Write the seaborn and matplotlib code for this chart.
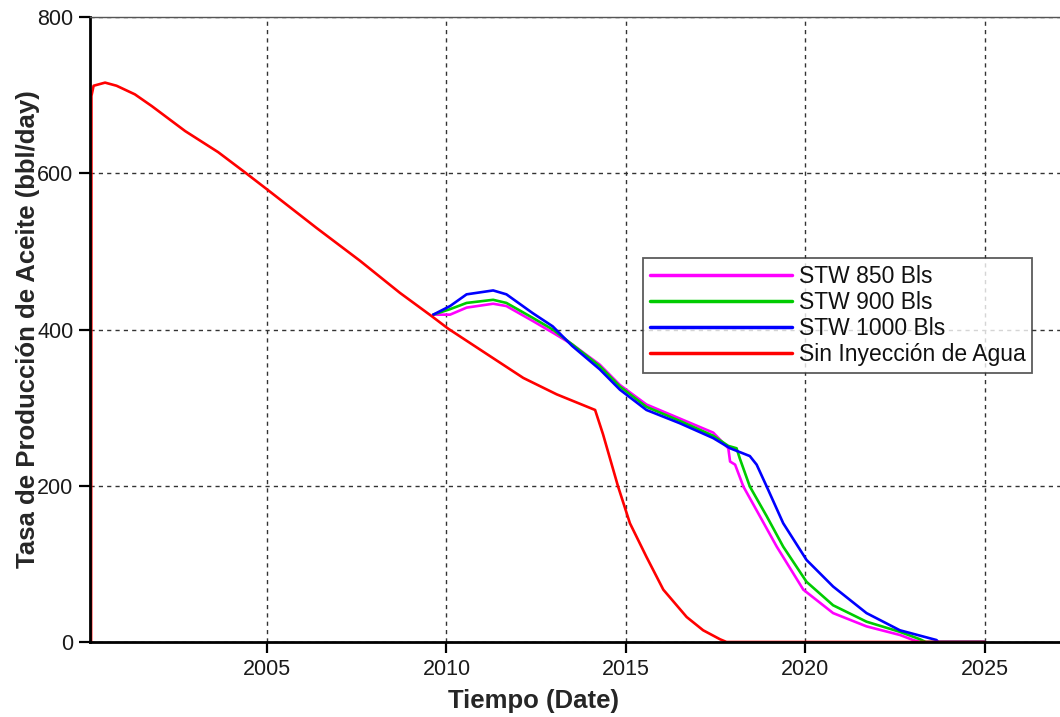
import numpy as np
import pandas as pd
import seaborn as sns
import matplotlib.pyplot as plt

# values (year, bbl/day)
red_t = [2000.10, 2000.11, 2000.17, 2000.49, 2000.81, 2001.32, 2001.79, 2002.72, 2003.64,
         2004.39, 2005.04, 2006.38, 2007.59, 2008.70, 2009.59, 2010.05, 2011.21, 2012.14,
         2013.07, 2014.14, 2014.36, 2014.78, 2015.11, 2015.57, 2016.04, 2016.69, 2017.15,
         2017.62, 2017.80, 2025.0]
red_q = [0, 699, 712, 716, 712, 701, 686, 654, 627,
         601, 578, 530, 488, 447, 417, 401, 366, 338,
         317, 297, 266, 199, 152, 109, 67, 32, 15,
         3.5, 0, 0]

stw_t = [2009.63, 2010.10, 2010.56, 2011.30, 2011.67, 2012.40, 2012.96, 2013.50, 2014.27,
         2014.83, 2015.57, 2016.50, 2017.43]
stw850_q = [419, 419, 428, 433, 430, 411, 396, 381, 355, 329, 304, 286, 268]
stw900_q = [419, 426, 434, 438, 434, 415, 400, 381, 353, 327, 301, 283, 264]
stw1000_q = [419, 430, 445, 450, 445, 421, 404, 379, 349, 323, 297, 280, 261]

tail850_t = [2017.85, 2017.90, 2018.04, 2018.27, 2018.73, 2019.20, 2019.94, 2020.77, 2021.70, 2022.63, 2023.00, 2023.20, 2025.0]
tail850_q = [248, 231, 227, 199, 161, 122, 67, 37, 20, 9, 2.5, 0, 0]
tail900_t = [2017.85, 2018.08, 2018.17, 2018.45, 2018.92, 2019.38, 2020.03, 2020.77, 2021.70, 2022.63, 2023.19, 2023.35, 2025.0]
tail900_q = [251, 248, 235, 199, 161, 122, 77, 47, 26, 13, 3.5, 0, 0]
tail1000_t = [2017.90, 2018.45, 2018.64, 2018.92, 2019.38, 2020.03, 2020.77, 2021.70, 2022.63, 2023.65, 2023.70, 2025.0]
tail1000_q = [248, 238, 227, 199, 152, 105, 71, 37, 15, 2.5, 0, 0]

labels = ["STW 850 Bls", "STW 900 Bls", "STW 1000 Bls", "Sin Inyección de Agua"]
colors = ["#FF00FF", "#00CC00", "#0000FF", "#FF0000"]

frames = [
    pd.DataFrame({"t": stw_t + tail850_t, "q": stw850_q + tail850_q, "serie": labels[0]}),
    pd.DataFrame({"t": stw_t + tail900_t, "q": stw900_q + tail900_q, "serie": labels[1]}),
    pd.DataFrame({"t": stw_t + tail1000_t, "q": stw1000_q + tail1000_q, "serie": labels[2]}),
    pd.DataFrame({"t": red_t, "q": red_q, "serie": labels[3]}),
]
df = pd.concat(frames, ignore_index=True)

sns.set_style("white")
plt.rcParams["font.family"] = ["Liberation Sans", "DejaVu Sans"]

fig = plt.figure(figsize=(10.6, 7.17), dpi=100)
ax = fig.add_axes([90 / 1060, 75 / 717, 970 / 1060, 625 / 717])

sns.lineplot(data=df, x="t", y="q", hue="serie", hue_order=labels,
             palette=dict(zip(labels, colors)), sort=False, estimator=None,
             linewidth=1.9, ax=ax)

ax.set_xlim(2000.07, 2027.09)
ax.set_ylim(0, 800)
ax.set_xticks([2005, 2010, 2015, 2020, 2025])
ax.set_yticks([0, 200, 400, 600, 800])
ax.grid(True, color="#333333", linestyle=(0, (3, 3)), linewidth=1.0)
ax.set_axisbelow(True)

for s in ["left", "bottom"]:
    ax.spines[s].set_linewidth(2.0)
    ax.spines[s].set_color("black")
ax.spines["top"].set_linewidth(1.0)
ax.spines["top"].set_color("#555555")
ax.spines["right"].set_visible(False)

ax.tick_params(axis="both", direction="out", length=8, width=1.6, color="black",
               labelsize=15.5, labelcolor="#1a1a1a", pad=4)
ax.tick_params(axis="x", bottom=True)
ax.tick_params(axis="y", left=True)

ax.set_xlabel("Tiempo (Date)", fontsize=18.5, fontweight="bold")
ax.set_ylabel("Tasa de Producción de Aceite (bbl/day)", fontsize=18.5, fontweight="bold")
ax.xaxis.set_label_coords((534 - 90) / 970, -0.075)
ax.yaxis.set_label_coords(-0.052, 0.5)

leg = ax.legend(loc="upper left", bbox_to_anchor=((643 - 90) / 970, (642 - 258) / 625),
                borderaxespad=0, fontsize=16.5, handlelength=6.2, handletextpad=0.3,
                labelspacing=0.13, borderpad=0.3, frameon=True, fancybox=False)
leg.get_frame().set_edgecolor("#333333")
leg.get_frame().set_linewidth(1.3)
for text in leg.get_texts():
    text.set_color("#111111")
for line in leg.get_lines():
    line.set_linewidth(2.5)

fig.savefig("out.png", dpi=100)
